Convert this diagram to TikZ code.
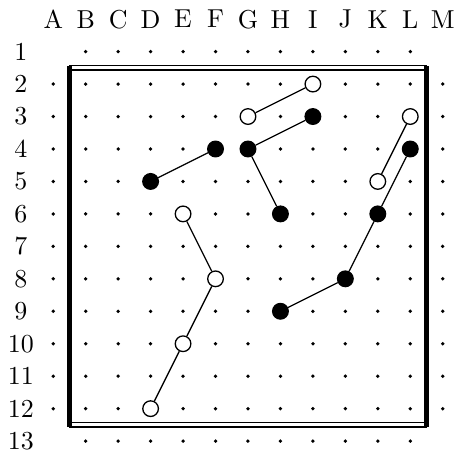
\documentclass[tikz,border=0pt]{standalone}
\usepackage{tikz}
\definecolor{gbstone}{HTML}{000000}
\definecolor{gbpaper}{HTML}{FFFFFF}
\tikzset{
  gbdot/.style={fill=gbstone},
  bstone/.style={circle, fill=gbstone, draw=gbstone, line width=0.5pt,
                 inner sep=0pt, minimum size=0.212cm},
  wstone/.style={bstone, fill=gbpaper},
  gblink/.style={draw=gbstone, line width=0.5pt},
  gbside/.style={line width=1.9pt},
  gbedge/.style={double=gbpaper, line width=0.55pt, double distance=1.1pt}
}
\begin{document}
\begin{tikzpicture}[x=0.44cm, y=0.44cm]
  \useasboundingbox (-0.64,0.59) rectangle (13.44,-13.31);
  % coordinates along the edges
  \foreach \l [count=\i] in {A,B,C,D,E,F,G,H,I,J,K,L,M}
    \node (col\l) at (\i,0) {\l};
  \foreach \r in {1,...,13}
    \node (row\r) at (0,-\r) {\r};
  % board frame
  \draw[gbedge] (1.5,-1.5) -- (12.5,-1.5);
  \draw[gbedge] (1.5,-12.5) -- (12.5,-12.5);
  \draw[gbside] (1.5,-1.45) -- (1.5,-12.55);
  \draw[gbside] (12.5,-1.45) -- (12.5,-12.55);
  % points
  \foreach \x in {2,...,12}
    \foreach \y in {1,...,13}
      {\fill[gbdot] (\x,-\y) circle (0.058);}
  \foreach \x in {1,13}
    \foreach \y in {2,...,12}
      {\fill[gbdot] (\x,-\y) circle (0.058);}
  % stones
  \foreach \n/\x/\y in {I2/9/2, G3/7/3, L3/12/3, K5/11/5,
                        E6/5/6, F8/6/8, E10/5/10, D12/4/12}
    {\node[wstone] (\n) at (\x,-\y) {};}
  \foreach \n/\x/\y in {I3/9/3, F4/6/4, G4/7/4, L4/12/4, D5/4/5,
                        H6/8/6, K6/11/6, J8/10/8, H9/8/9}
    {\node[bstone] (\n) at (\x,-\y) {};}
  % links
  \draw[gblink] (I2) -- (G3);
  \draw[gblink] (I3) -- (G4) -- (H6);
  \draw[gblink] (F4) -- (D5);
  \draw[gblink] (L3) -- (K5);
  \draw[gblink] (L4) -- (K6) -- (J8) -- (H9);
  \draw[gblink] (E6) -- (F8) -- (E10) -- (D12);
\end{tikzpicture}
\end{document}
